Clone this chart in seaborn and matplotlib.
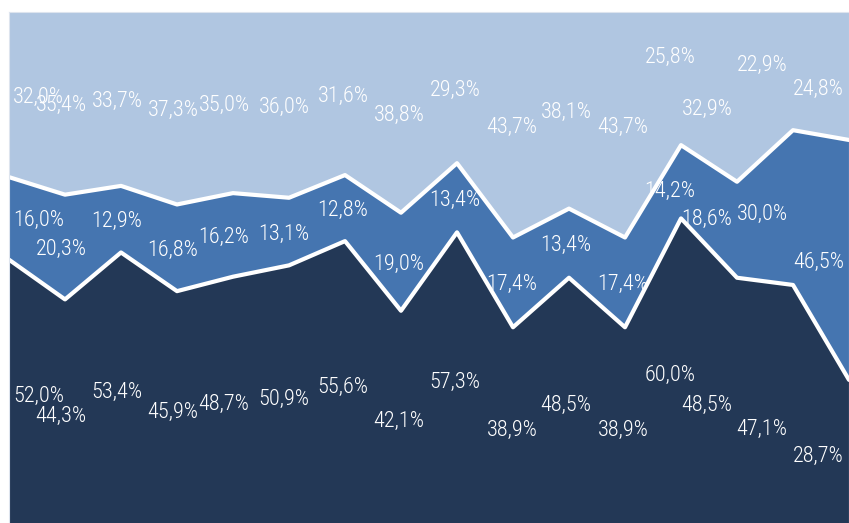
import numpy as np
import pandas as pd
import seaborn as sns
import matplotlib.pyplot as plt
from matplotlib.transforms import offset_copy

periods = list(range(16))
bottom_vals = [52.0, 44.3, 53.4, 45.9, 48.7, 50.9, 55.6, 42.1, 57.3, 38.9, 48.5, 38.9, 60.0, 48.5, 47.1, 28.7]
middle_vals = [16.0, 20.3, 12.9, 16.8, 16.2, 13.1, 12.8, 19.0, 13.4, 17.4, 13.4, 17.4, 14.2, 18.6, 30.0, 46.5]
top_vals = [32.0, 35.4, 33.7, 37.3, 35.0, 36.0, 31.6, 38.8, 29.3, 43.7, 38.1, 43.7, 25.8, 32.9, 22.9, 24.8]

colors = ["#233856", "#4575B0", "#B0C6E1"]

sns.set_theme(style="white")
plt.rcParams['font.family'] = ['Roboto Condensed', 'Liberation Sans', 'DejaVu Sans']

fig = plt.figure(figsize=(8.49, 5.23), dpi=100)
ax = fig.add_axes([9 / 849, -5 / 523, 840 / 849, 516 / 523])

series = [bottom_vals, middle_vals, top_vals]
lower = np.zeros(len(periods))
bounds = []
for vals, col in zip(series, colors):
    upper = lower + np.array(vals)
    ax.fill_between(periods, lower, upper, color=col, linewidth=0)
    bounds.append((lower.copy(), upper.copy()))
    lower = upper

# white separators between the bands
sep = pd.DataFrame({
    "x": periods * 2,
    "y": list(bounds[0][1]) + list(bounds[1][1]),
    "line": ["a"] * 16 + ["b"] * 16,
})
sns.lineplot(data=sep, x="x", y="y", units="line", estimator=None,
             color="white", linewidth=3, ax=ax, legend=False)

# label nudges in pixels (dx, dy; dy positive = down)
x_shift = [0, -4, -4, -4, -9, -5, -2, -2, -2, -1, -3, -2, -11, -30, -31, 0]
y_shift = {
    (2, 12): 24, (2, 13): -10, (2, 14): 8, (2, 15): -11,
    (1, 12): -7, (1, 13): 13, (1, 14): -4,
    (0, 14): -20,
}
for row, (vals, (lo, hi)) in enumerate(zip(series, bounds)):
    for i, v in enumerate(vals):
        mid = (lo[i] + hi[i]) / 2
        ha = "center"
        dx = x_shift[i]
        if i == 0:
            ha, dx = "left", 4
        elif i == len(vals) - 1:
            ha, dx = "right", -5
        dy = y_shift.get((row, i), 0)
        tr = offset_copy(ax.transData, fig=fig, x=dx, y=dy, units="dots")
        ax.text(i, mid, f"{v:.1f}%".replace(".", ","), transform=tr,
                ha=ha, va="center_baseline", color="white", fontsize=16,
                fontweight="light")

ax.set_xlim(0, 15)
ax.set_ylim(0, 100)
ax.set_xticks([])
ax.set_yticks([])
ax.set_xlabel("")
ax.set_ylabel("")
for s in ax.spines.values():
    s.set_color("#dde4ee")
    s.set_linewidth(0.8)

fig.savefig("out.png", dpi=100)
